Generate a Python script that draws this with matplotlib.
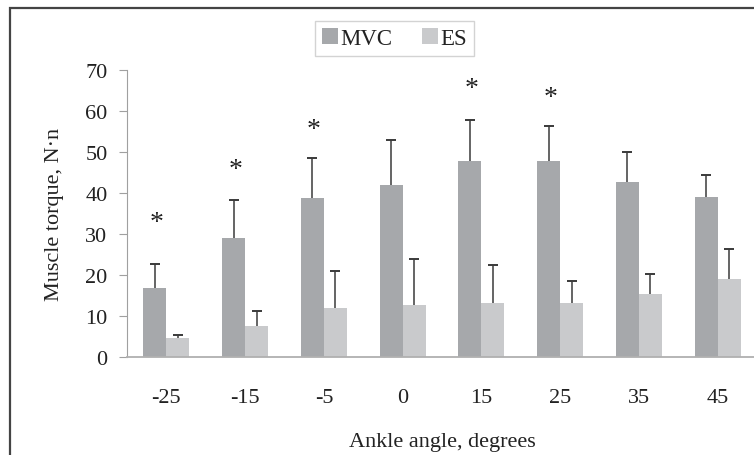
import numpy as np
import matplotlib.pyplot as plt
from matplotlib.patches import Rectangle

plt.rcParams['font.family'] = ['Liberation Serif', 'DejaVu Serif']

# Data
angles = ['-25', '-15', '-5', '0', '15', '25', '35', '45']
mvc = [16.8, 29.0, 38.8, 42.0, 47.8, 47.8, 42.7, 39.0]
mvc_err = [6.0, 9.2, 9.8, 11.0, 10.0, 8.5, 7.4, 5.5]
es = [4.7, 7.6, 12.0, 12.7, 13.2, 13.2, 15.4, 19.0]
es_err = [0.7, 3.7, 8.9, 11.1, 9.2, 5.4, 4.8, 7.4]
# significance markers (height of the asterisk, None = no marker)
star_y = [32.7, 45.7, 55.4, None, 65.4, 63.2, None, None]

mvc_color = '#a6a8ab'
es_color = '#c9cacc'
err_color = '#3a3a3a'

fig = plt.figure(figsize=(7.54, 4.56), dpi=100)
ax = fig.add_axes([127/754, 98/456, 630/754, 287/456])

x = np.arange(len(angles))
w = 0.292

ax.bar(x - w/2, mvc, w, color=mvc_color, label='MVC', zorder=2)
ax.bar(x + w/2, es, w, color=es_color, label='ES', zorder=2)

# upper-only error bars
for xs, vals, errs in [(x - w/2, mvc, mvc_err), (x + w/2, es, es_err)]:
    tops = np.array(vals) + np.array(errs)
    ax.vlines(xs, vals, tops, color=err_color, linewidth=1.1, zorder=3)
    ax.plot(xs, tops, ls='none', marker='_', ms=7, mew=1.4, color=err_color, zorder=3)

for i, s in enumerate(star_y):
    if s is not None:
        ax.text(x[i] - w/2 + 0.02, s, '*', ha='center', va='center',
                fontsize=20, color='#222222')

ax.set_xlim(-0.5, 7.5)
ax.set_ylim(0, 70)
ax.set_yticks(range(0, 71, 10))
ax.set_xticks(x)
ax.set_xticklabels(angles)

for side in ['top', 'right']:
    ax.spines[side].set_visible(False)
ax.spines['left'].set_color('#a0a0a0')
ax.spines['bottom'].set_color('#b0b0b0')
ax.spines['bottom'].set_linewidth(1.3)

ax.tick_params(axis='y', length=6, color='#a0a0a0', pad=8, labelsize=16,
               labelcolor='#222222')
ax.tick_params(axis='x', length=0, pad=22, labelsize=16, labelcolor='#222222')

ax.set_ylabel('Muscle torque, N\u00b7n', fontsize=16, color='#222222', labelpad=15)
ax.set_xlabel('Ankle angle, degrees', fontsize=16, color='#222222', labelpad=18)

leg = ax.legend(loc='upper center', bbox_to_anchor=(0.425, 1.171), ncol=2,
                fontsize=16.5, frameon=True, fancybox=False, handlelength=0.7,
                handleheight=0.7, handletextpad=0.1, columnspacing=1.3,
                borderpad=0.3, borderaxespad=0)
leg.get_frame().set_edgecolor('#c8c8c8')
leg.get_frame().set_linewidth(1.0)
for t in leg.get_texts():
    t.set_color('#222222')

# outer frame around the figure
fig.patches.append(Rectangle((10/754, -0.05), 1.1, 0.05 + 447/456,
                             transform=fig.transFigure, fill=False,
                             edgecolor='#444444', linewidth=1.6))

fig.savefig('out.png', dpi=100)
